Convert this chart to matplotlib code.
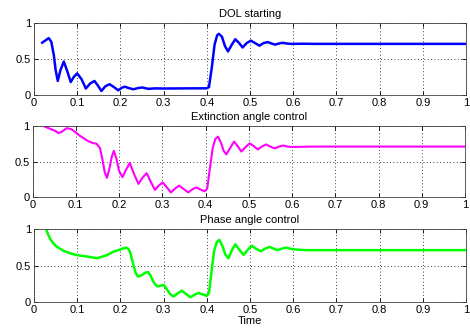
import matplotlib
matplotlib.use("Agg")
import matplotlib.pyplot as plt

t_dol = [0.019, 0.027, 0.034, 0.040, 0.046, 0.050, 0.055, 0.061, 0.069, 0.077, 0.085, 0.092,
         0.100, 0.110, 0.120, 0.130, 0.140, 0.148, 0.156, 0.165, 0.175, 0.185, 0.195, 0.203,
         0.210, 0.220, 0.230, 0.240, 0.250, 0.265, 0.280, 0.300, 0.350, 0.400, 0.405, 0.412,
         0.418, 0.424, 0.428, 0.435, 0.442, 0.449, 0.458, 0.466, 0.475, 0.483, 0.492, 0.502,
         0.512, 0.522, 0.531, 0.541, 0.550, 0.558, 0.567, 0.575, 0.585, 0.595, 0.620, 0.650, 1.0]
v_dol = [0.727, 0.76, 0.79, 0.74, 0.55, 0.35, 0.195, 0.34, 0.465, 0.33, 0.18, 0.25,
         0.30, 0.22, 0.09, 0.16, 0.195, 0.13, 0.056, 0.12, 0.15, 0.11, 0.065, 0.10,
         0.115, 0.095, 0.08, 0.095, 0.105, 0.085, 0.092, 0.09, 0.092, 0.093, 0.11, 0.40,
         0.70, 0.83, 0.85, 0.81, 0.68, 0.605, 0.70, 0.775, 0.72, 0.66, 0.72, 0.755,
         0.72, 0.685, 0.72, 0.735, 0.715, 0.70, 0.715, 0.725, 0.715, 0.71, 0.712, 0.71, 0.71]

t_ext = [0.029, 0.037, 0.045, 0.053, 0.060, 0.068, 0.079, 0.090, 0.102, 0.110, 0.118, 0.125,
         0.133, 0.140, 0.148, 0.156, 0.162, 0.167, 0.172, 0.178, 0.183, 0.188, 0.194, 0.200,
         0.208, 0.216, 0.225, 0.235, 0.245, 0.254, 0.264, 0.273, 0.283, 0.292, 0.301, 0.310,
         0.320, 0.330, 0.339, 0.350, 0.360, 0.370, 0.379, 0.390, 0.398, 0.404, 0.410, 0.417,
         0.423, 0.429, 0.436, 0.442, 0.448, 0.458, 0.466, 0.474, 0.483, 0.492, 0.502, 0.511,
         0.521, 0.530, 0.540, 0.550, 0.560, 0.570, 0.580, 0.590, 0.600, 0.650, 1.0]
v_ext = [0.99, 0.97, 0.95, 0.93, 0.90, 0.92, 0.97, 0.955, 0.90, 0.86, 0.83, 0.80,
         0.775, 0.76, 0.75, 0.69, 0.52, 0.35, 0.27, 0.40, 0.56, 0.65, 0.54, 0.37,
         0.28, 0.38, 0.48, 0.32, 0.185, 0.27, 0.335, 0.22, 0.10, 0.16, 0.205, 0.14,
         0.065, 0.12, 0.16, 0.11, 0.065, 0.11, 0.135, 0.10, 0.08, 0.12, 0.40, 0.70,
         0.82, 0.85, 0.76, 0.65, 0.60, 0.70, 0.78, 0.72, 0.64, 0.70, 0.755, 0.72,
         0.67, 0.71, 0.74, 0.71, 0.685, 0.71, 0.725, 0.71, 0.705, 0.71, 0.71]

t_ph = [0.028, 0.033, 0.038, 0.044, 0.050, 0.060, 0.069, 0.078, 0.088, 0.097, 0.107, 0.117,
        0.126, 0.136, 0.145, 0.155, 0.165, 0.175, 0.184, 0.192, 0.200, 0.207, 0.213, 0.218,
        0.222, 0.228, 0.234, 0.240, 0.245, 0.250, 0.257, 0.264, 0.270, 0.277, 0.285, 0.292,
        0.300, 0.307, 0.315, 0.323, 0.333, 0.342, 0.352, 0.362, 0.372, 0.381, 0.390, 0.400,
        0.405, 0.411, 0.417, 0.423, 0.429, 0.436, 0.443, 0.450, 0.459, 0.466, 0.475, 0.485,
        0.494, 0.504, 0.514, 0.525, 0.535, 0.545, 0.555, 0.564, 0.573, 0.583, 0.593, 0.604,
        0.630, 1.0]
v_ph = [1.0, 0.92, 0.86, 0.81, 0.77, 0.73, 0.70, 0.68, 0.66, 0.645, 0.635, 0.627,
        0.62, 0.61, 0.60, 0.615, 0.635, 0.66, 0.69, 0.705, 0.72, 0.735, 0.745, 0.73,
        0.69, 0.56, 0.42, 0.35, 0.355, 0.37, 0.40, 0.41, 0.36, 0.27, 0.215, 0.22,
        0.235, 0.18, 0.11, 0.075, 0.12, 0.155, 0.11, 0.065, 0.10, 0.125, 0.105, 0.085,
        0.12, 0.42, 0.70, 0.82, 0.85, 0.77, 0.65, 0.60, 0.72, 0.79, 0.72, 0.645,
        0.71, 0.77, 0.73, 0.695, 0.73, 0.755, 0.73, 0.71, 0.73, 0.745, 0.73, 0.72,
        0.71, 0.71]

titles = ["DOL starting", "Extinction angle control", "Phase angle control"]
colors = ["#0000ff", "#ff00ff", "#00ff00"]
xticks = [0, 0.1, 0.2, 0.3, 0.4, 0.5, 0.6, 0.7, 0.8, 0.9, 1]
xticklabels = ["0", "0.1", "0.2", "0.3", "0.4", "0.5", "0.6", "0.7", "0.8", "0.9", "1"]
yticks = [0, 0.5, 1]
yticklabels = ["0", "0.5", "1"]

plt.rcParams['font.family'] = ['Liberation Sans', 'DejaVu Sans']
plt.rcParams['font.size'] = 8

W, H = 470, 331
fig = plt.figure(figsize=(W / 100, H / 100), dpi=100)
boxes = [(34, 466, 23, 95), (32.5, 465, 126, 197), (34, 466, 229, 302)]
series = [(t_dol, v_dol), (t_ext, v_ext), (t_ph, v_ph)]
lws = [1.8, 1.5, 1.8]

for i, ((l, r, tp, bt), (tx, vy)) in enumerate(zip(boxes, series)):
    ax = fig.add_axes([l / W, (H - bt) / H, (r - l) / W, (bt - tp) / H])
    ax.plot(tx, vy, color=colors[i], lw=lws[i], solid_joinstyle='round')
    ax.set_xlim(0, 1)
    ax.set_ylim(0, 1)
    ax.set_xticks(xticks)
    ax.set_xticklabels(xticklabels)
    ax.set_yticks(yticks)
    ax.set_yticklabels(yticklabels)
    ax.grid(True, color='black', linestyle=(0, (1, 3)), linewidth=0.6)
    ax.tick_params(direction='in', length=3, width=0.6, top=True, right=True,
                   pad=2, labelsize=8, colors='black')
    for s in ax.spines.values():
        s.set_linewidth(0.6)
        s.set_color('#404040')
    ax.set_title(titles[i], fontsize=8, pad=4)
    if i == 2:
        ax.set_xlabel("Time", fontsize=8, labelpad=1)

fig.savefig("out.png", dpi=100)
